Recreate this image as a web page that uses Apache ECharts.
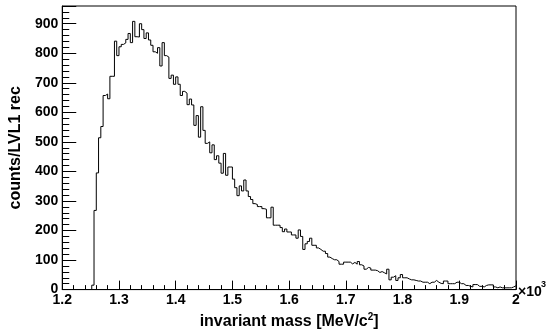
<!DOCTYPE html>
<html>
<head>
<meta charset="utf-8">
<script src="https://cdn.jsdelivr.net/npm/echarts@6/dist/echarts.min.js"></script>
<style>
html,body{margin:0;padding:0;background:#fff;}
#chart{width:551px;height:335px;}
</style>
</head>
<body>
<div id="chart"></div>
<script>
// Histogram: bin width 0.004 (x10^3 MeV/c^2), first bin starts at 1.252
var binStart = 1.252;
var binWidth = 0.004;
var counts1250 = [15,268,395,514,552,657,662,646,722,722,841,792];
var counts1300 = [822,830,835,847,867,836,908,856,855,900,880,850,869,845,827,805,800,819,757,836,792,787,715,726,695];
var counts1400 = [720,695,657,671,665,626,645,625,556,589,516,619,539,495,500,463,490,440,453,428,394,461,387,415,415];
var counts1500 = [374,345,318,351,334,371,334,315,305,291,288,281,281,274,272,243,243,279,218,218,218,210,196,205,195];
var counts1600 = [195,185,185,174,202,180,136,155,163,174,150,150,141,136,130,130,122,110,105,101,101,95,86,86,93];
var counts1700 = [93,93,87,92,86,95,84,80,69,75,73,66,66,64,58,61,57,53,69,33,42,47,31,40,51];
var counts1800 = [40,40,36,33,33,31,29,29,25,25,25,20,25,25,31,25,21,20,29,29,20,20,20,25,25];
var counts1900 = [20,20,14,14,11,9,17,17,11,11,9,14,16,16,16,9,6,9,6,6,6,6,6,9,13];
var xTicks = [1.2,1.3,1.4,1.5,1.6,1.7,1.8,1.9,2.0];
var yTicks = [0,100,200,300,400,500,600,700,800,900];

var counts = [].concat(counts1250,counts1300,counts1400,counts1500,counts1600,counts1700,counts1800,counts1900);
var pts = [[binStart,0]];
for (var i=0;i<counts.length;i++){
  pts.push([+(binStart+i*binWidth).toFixed(4), counts[i]]);
}
pts.push([+(binStart+counts.length*binWidth).toFixed(4), counts[counts.length-1]]);

var FONT = '"Liberation Sans", Arial, Helvetica, sans-serif';
var chart = echarts.init(document.getElementById('chart'), null, {renderer:'canvas'});
chart.setOption({
  animation:false,
  backgroundColor:'#fff',
  grid:{left:56,right:35,top:6,bottom:39,show:true,borderColor:'#000',borderWidth:1,backgroundColor:'transparent'},
  xAxis:{
    type:'value', min:xTicks[0], max:xTicks[xTicks.length-1], interval:0.1,
    axisLine:{show:true,lineStyle:{color:'#000',width:1}},
    axisTick:{show:true,inside:true,length:9,lineStyle:{color:'#000'}},
    minorTick:{show:true,splitNumber:5,length:4.5,lineStyle:{color:'#000'}},
    splitLine:{show:false},
    axisLabel:{color:'#000',fontFamily:FONT,fontWeight:'bold',fontSize:14,margin:4,
      formatter:function(v){return String(Math.round(v*10)/10);}},
    name:'invariant mass [MeV/c{sup|2}]',
    nameLocation:'middle', nameGap:20,
    nameTextStyle:{color:'#000',fontFamily:FONT,fontWeight:'bold',fontSize:16,
      rich:{sup:{fontSize:10,fontWeight:'bold',fontFamily:FONT,color:'#000',verticalAlign:'top',padding:[0,0,9,0]}}}
  },
  yAxis:[{
    type:'value', min:0, max:960, interval:100,
    axisLine:{show:true,lineStyle:{color:'#000',width:1}},
    axisTick:{show:true,inside:true,length:14,lineStyle:{color:'#000'}},
    splitLine:{show:false},
    axisLabel:{color:'#000',fontFamily:FONT,fontWeight:'bold',fontSize:14,margin:4,
      formatter:function(v){return (v%100===0)?String(v):'';}},
    name:'counts/LVL1 rec', nameLocation:'middle', nameGap:24,
    nameTextStyle:{color:'#000',fontFamily:FONT,fontWeight:'bold',fontSize:16}
  },{
    type:'value', min:0, max:960, interval:20, position:'left',
    axisLine:{show:false},
    axisTick:{show:true,inside:true,length:7,lineStyle:{color:'#000'}},
    axisLabel:{show:false}, splitLine:{show:false}
  }],
  graphic:[
    {type:'text',left:518,top:285,style:{text:'×10',fill:'#000',font:'bold 14px '+FONT}},
    {type:'text',left:541,top:280,style:{text:'3',fill:'#000',font:'bold 9px '+FONT}}
  ],
  series:[{
    type:'line', data:pts, step:'end', showSymbol:false, symbol:'none',
    lineStyle:{color:'#000',width:1}, clip:true
  }]
});
</script>
</body>
</html>
